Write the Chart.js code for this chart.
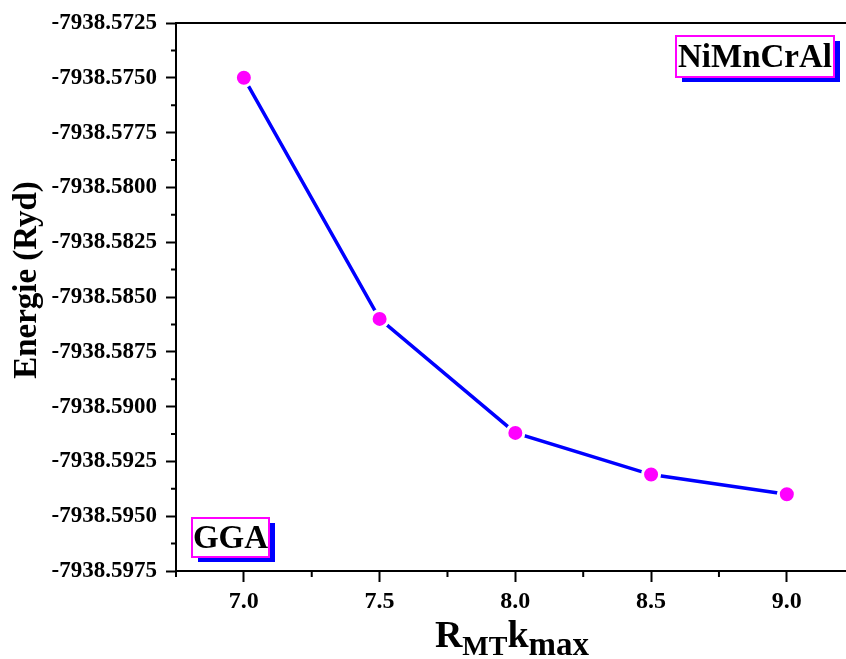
<!DOCTYPE html>
<html>
<head>
<meta charset="utf-8">
<script src="https://cdn.jsdelivr.net/npm/chart.js@4.4.0/dist/chart.umd.min.js"></script>
<style>
  html, body { margin: 0; padding: 0; background: #fff; overflow: hidden; }
  #wrap { width: 846px; height: 659px; }
</style>
</head>
<body>
<div id="wrap"><canvas id="energyChart" width="846" height="659"></canvas></div>
<script>
// convergence of total energy vs RMT*Kmax
const rkmax  = [7.0, 7.5, 8.0, 8.5, 9.0];
const energy = [-7938.5750, -7938.5860, -7938.5912, -7938.5931, -7938.5940];
const xTicks = [7.0, 7.5, 8.0, 8.5, 9.0];
const yTicks = [-7938.5975, -7938.5950, -7938.5925, -7938.5900, -7938.5875, -7938.5850,
                -7938.5825, -7938.5800, -7938.5775, -7938.5750, -7938.5725];

const SERIF = '"Liberation Serif", "Times New Roman", serif';

function tagBox(ctx, text, left, top, w, h){
  ctx.fillStyle = '#0000ff';
  ctx.fillRect(left + 6, top + 5, w, h);
  ctx.fillStyle = '#ffffff';
  ctx.fillRect(left, top, w, h);
  ctx.strokeStyle = '#ff00ff';
  ctx.lineWidth = 2;
  ctx.strokeRect(left, top, w, h);
  ctx.fillStyle = '#000';
  ctx.font = 'bold 33px ' + SERIF;
  ctx.textAlign = 'center';
  ctx.textBaseline = 'middle';
  ctx.fillText(text, left + w / 2, top + h / 2 + 2);
}

// frame top, minor ticks, labels and axis titles
const decor = {
  id: 'decor',
  afterDraw(chart){
    const {ctx, chartArea: a, scales: {x, y}} = chart;
    ctx.save();
    ctx.strokeStyle = '#000';
    ctx.lineWidth = 2;
    ctx.beginPath();
    ctx.moveTo(a.left, a.top);
    ctx.lineTo(a.right, a.top);
    ctx.stroke();

    ctx.beginPath();
    const step = xTicks[1] - xTicks[0];
    [xTicks[0] - step / 2, ...xTicks.map(v => v + step / 2)].forEach(v => {
      if (v > x.max) return;
      const px = x.getPixelForValue(v);
      ctx.moveTo(px, a.bottom);
      ctx.lineTo(px, a.bottom + 6);
    });
    for (let i = 0; i < yTicks.length - 1; i++){
      const py = y.getPixelForValue((yTicks[i] + yTicks[i + 1]) / 2);
      ctx.moveTo(a.left, py);
      ctx.lineTo(a.left - 5, py);
    }
    ctx.stroke();

    tagBox(ctx, 'NiMnCrAl', a.left + 500, a.top + 13, 158, 41);
    tagBox(ctx, 'GGA', a.left + 16, a.bottom - 53, 77, 39);

    // y title
    ctx.save();
    ctx.translate(27, a.top + 257);
    ctx.rotate(-Math.PI / 2);
    ctx.fillStyle = '#000';
    ctx.font = 'bold 33px ' + SERIF;
    ctx.textAlign = 'center';
    ctx.textBaseline = 'middle';
    ctx.fillText('Energie (Ryd)', 0, 0);
    ctx.restore();

    // x title R_MT k_max
    const parts = [
      ['R', 38, 0], ['MT', 28, 8], ['k', 38, 0], ['max', 33, 8]
    ];
    ctx.fillStyle = '#000';
    ctx.textAlign = 'left';
    ctx.textBaseline = 'alphabetic';
    let total = 0;
    parts.forEach(p => { ctx.font = 'bold ' + p[1] + 'px ' + SERIF; total += ctx.measureText(p[0]).width; });
    let cx = 512 - total / 2;
    const base = a.bottom + 76;
    parts.forEach(p => {
      ctx.font = 'bold ' + p[1] + 'px ' + SERIF;
      ctx.fillText(p[0], cx, base + p[2]);
      cx += ctx.measureText(p[0]).width;
    });
    ctx.restore();
  }
};

new Chart(document.getElementById('energyChart').getContext('2d'), {
  type: 'line',
  data: {
    datasets: [{
      data: rkmax.map((v, i) => ({x: v, y: energy[i]})),
      borderColor: '#0000ff',
      borderWidth: 3.5,
      pointBackgroundColor: '#ff00ff',
      pointBorderColor: '#ffffff',
      pointBorderWidth: 3,
      pointRadius: 8.5,
      tension: 0,
      clip: false
    }]
  },
  options: {
    responsive: false,
    animation: false,
    layout: { autoPadding: false, padding: { top: 23, right: 0, left: 0, bottom: 0 } },
    plugins: { legend: { display: false }, tooltip: { enabled: false } },
    scales: {
      x: {
        type: 'linear',
        min: 6.75, max: 9.218,
        afterFit: s => { s.height = 88; },
        afterBuildTicks: s => { s.ticks = xTicks.map(v => ({value: v})); },
        border: { display: true, color: '#000', width: 2 },
        grid: { drawOnChartArea: false, drawTicks: true, tickLength: 11, tickWidth: 2, tickColor: '#000' },
        ticks: {
          color: '#000', padding: 5,
          font: { family: SERIF, size: 24, weight: 'bold' },
          callback: v => Number(v).toFixed(1)
        }
      },
      y: {
        type: 'linear',
        min: yTicks[0], max: yTicks[yTicks.length - 1],
        afterFit: s => { s.width = 176; },
        afterBuildTicks: s => { s.ticks = yTicks.map(v => ({value: v})); },
        border: { display: true, color: '#000', width: 2 },
        grid: { drawOnChartArea: false, drawTicks: true, tickLength: 10, tickWidth: 2, tickColor: '#000' },
        ticks: {
          color: '#000', padding: 9,
          font: { family: SERIF, size: 23, weight: 'bold' },
          callback: v => Number(v).toFixed(4)
        }
      }
    }
  },
  plugins: [decor]
});
</script>
</body>
</html>
